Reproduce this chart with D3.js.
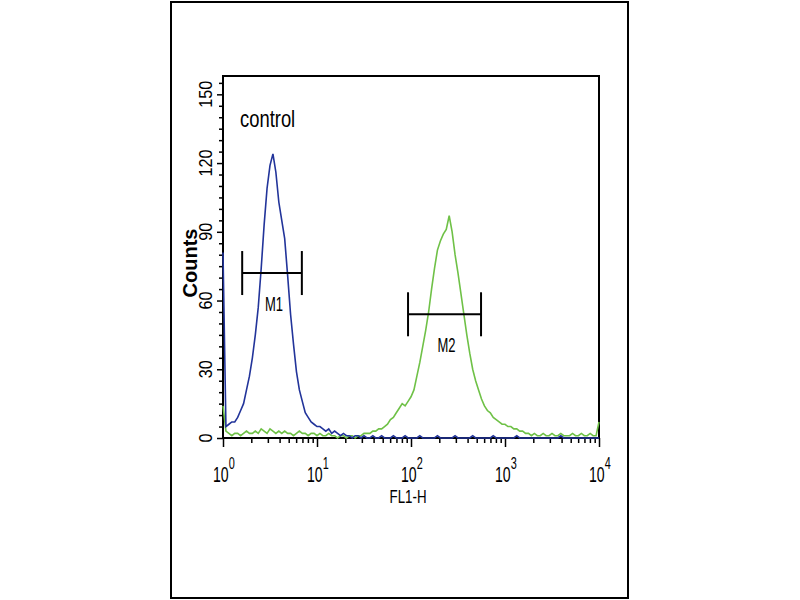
<!DOCTYPE html>
<html>
<head>
<meta charset="utf-8">
<script src="https://cdn.jsdelivr.net/npm/d3@7"></script>
<style>
  body { margin: 0; background: #fff; }
  svg text { font-family: "Liberation Sans", Arial, sans-serif; fill: #000; }
</style>
</head>
<body>
<svg id="chart" width="800" height="600"></svg>
<script>
// FL1-H histogram, 32 channels per decade, channel 0 = 10^0 .. channel 128 = 10^4
var binsPerDecade = 32;
var blueCounts = [81,
  5,6,7,7,9,12,15,21,27,35,
  45,57,74,93,109,119,124,116,103,95,
  87,71,54,41,29,21,16,11,9,7,
  6,5,5,4,3,4,2,3,2,1,
  2,1,1,0,1,1,0,1,0,0,
  1,0,0,1,0,0,0,1,0,0,
  0,1,0,0,0,0,1,0,0,0,
  0,0,1,0,0,0,0,0,1,0,
  0,0,0,0,1,0,0,0,0,0,
  0,1,0,0,0,0,0,0,0,1,
  0,0,0,0,0,0,0,0,0,0,
  0,0,0,0,1,0,0,0,0,0,
  0,0,0,0,0,0,0,0];
var greenCounts = [14,
  3,2,1,2,2,1,2,3,2,2,
  3,2,4,3,2,4,3,2,3,2,
  3,2,2,1,2,3,2,2,1,2,
  2,1,2,1,1,2,1,1,0,1,
  1,0,1,1,0,1,1,2,2,2,
  3,3,4,4,5,6,8,9,11,13,
  15,14,16,18,21,27,33,40,47,55,
  65,74,82,86,89,91,97,90,80,72,
  63,54,45,37,30,25,21,17,14,12,
  11,9,8,7,6,6,5,5,4,4,
  3,3,2,2,1,2,1,1,2,1,
  1,2,1,1,2,1,1,1,2,1,
  1,2,1,1,2,1,1,7];

var yTicks = [0, 30, 60, 90, 120, 150];
var xDecades = [1, 10, 100, 1000, 10000];
var xExponents = ["0", "1", "2", "3", "4"];

var markerNames = ["M1", "M2"];
var markerLo = [1.6, 93];
var markerHi = [6.9, 556];
var markerY = [72, 54];

var svg = d3.select("#chart");

var x = d3.scaleLog().domain([1, 10000]).range([223, 599]);
var y = d3.scaleLinear().domain([0, 158]).range([438, 76]);

// outer frame
svg.append("rect").attr("x", 171).attr("y", 2).attr("width", 457).attr("height", 596)
  .attr("fill", "none").attr("stroke", "#000").attr("stroke-width", 2);

// plot box
svg.append("rect").attr("x", 223).attr("y", 76).attr("width", 376).attr("height", 362)
  .attr("fill", "none").attr("stroke", "#000").attr("stroke-width", 2);

// y axis: minor every 5, major every 30
var yMinor = d3.range(0, 156, 5);
var gy = svg.append("g").attr("transform", "translate(223,0)");
gy.call(d3.axisLeft(y).tickValues(yMinor).tickSize(4).tickFormat(""));
gy.select(".domain").remove();
gy.selectAll(".tick line").attr("stroke-width", 1.5)
  .attr("x2", d => yTicks.indexOf(d) >= 0 ? -6 : -4);
svg.selectAll(".ylab").data(yTicks).enter().append("text")
  .attr("transform", d => "translate(212," + y(d) + ") rotate(-90) scale(0.9,1)")
  .attr("text-anchor", "middle").attr("font-size", 18).text(d => d);

svg.append("text").attr("transform", "translate(197,263) rotate(-90)")
  .attr("text-anchor", "middle").attr("font-size", 20).attr("font-weight", "bold").text("Counts");

// x axis: decades plus 2..9 minors
var xMinor = [];
xDecades.slice(0, 4).forEach(d => { for (var k = 2; k <= 9; k++) xMinor.push(d * k); });
var gx = svg.append("g").attr("transform", "translate(0,438)");
gx.call(d3.axisBottom(x).tickValues(xDecades.concat(xMinor)).tickSize(5).tickFormat(""));
gx.select(".domain").remove();
gx.selectAll(".tick line").attr("stroke-width", 1.5)
  .attr("y2", d => xDecades.indexOf(d) >= 0 ? 9 : 5);

var xl = svg.selectAll(".xlab").data(xDecades).enter().append("text")
  .attr("transform", d => "translate(" + (x(d) - 10) + ",482) scale(0.64,1)").attr("font-size", 22);
xl.append("tspan").text("10");
xl.append("tspan").attr("dy", -13).attr("font-size", 17).text((d, i) => xExponents[i]);

svg.append("text").attr("transform", "translate(408,503) scale(0.74,1)").attr("text-anchor", "middle")
  .attr("font-size", 18).text("FL1-H");

// histograms
var line = d3.line().x(d => x(d.fl)).y(d => y(d.count));
function toPoints(counts) { return counts.map((c, i) => ({ fl: Math.pow(10, i / binsPerDecade), count: c })); }

svg.append("path").datum(toPoints(greenCounts)).attr("fill", "none")
  .attr("stroke", "#6fc147").attr("stroke-width", 1.6).attr("d", line);
svg.append("path").datum(toPoints(blueCounts)).attr("fill", "none")
  .attr("stroke", "#22349a").attr("stroke-width", 1.6).attr("d", line);

// markers
var mk = svg.selectAll(".marker").data(markerNames).enter().append("g");
mk.append("line").attr("x1", (d, i) => x(markerLo[i])).attr("x2", (d, i) => x(markerHi[i]))
  .attr("y1", (d, i) => y(markerY[i])).attr("y2", (d, i) => y(markerY[i]))
  .attr("stroke", "#000").attr("stroke-width", 2);
mk.append("line").attr("x1", (d, i) => x(markerLo[i])).attr("x2", (d, i) => x(markerLo[i]))
  .attr("y1", (d, i) => y(markerY[i]) - 22).attr("y2", (d, i) => y(markerY[i]) + 22)
  .attr("stroke", "#000").attr("stroke-width", 2);
mk.append("line").attr("x1", (d, i) => x(markerHi[i])).attr("x2", (d, i) => x(markerHi[i]))
  .attr("y1", (d, i) => y(markerY[i]) - 22).attr("y2", (d, i) => y(markerY[i]) + 22)
  .attr("stroke", "#000").attr("stroke-width", 2);
mk.append("text")
  .attr("transform", (d, i) => "translate(" + ((x(markerLo[i]) + x(markerHi[i])) / 2 + 2) + "," + (y(markerY[i]) + 38) + ") scale(0.62,1)")
  .attr("text-anchor", "middle").attr("font-size", 21).text(d => d);

svg.append("text").attr("transform", "translate(240,127) scale(0.8,1)").attr("font-size", 23).text("control");
</script>
</body>
</html>
